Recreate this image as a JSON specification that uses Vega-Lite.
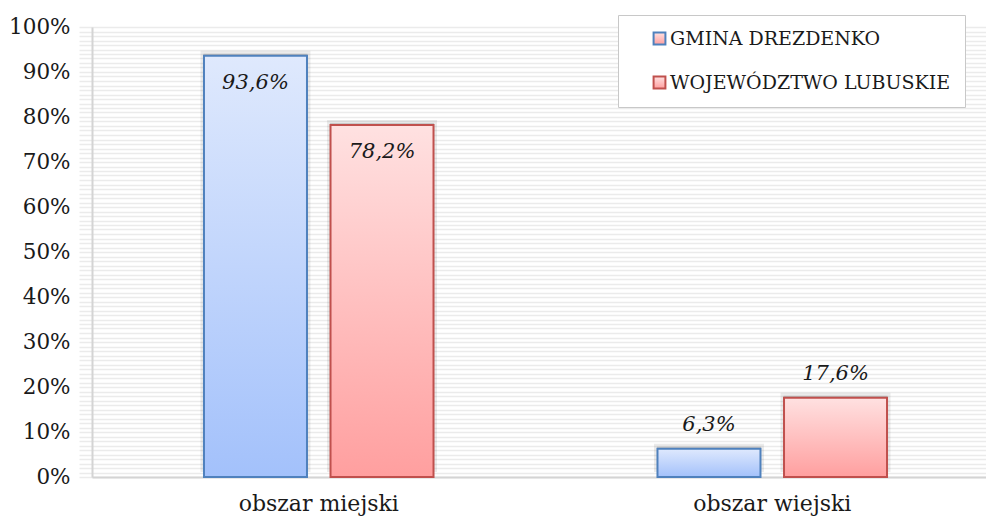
{
  "$schema": "https://vega.github.io/schema/vega-lite/v6.json",
  "width": 894,
  "height": 450,
  "autosize": "none",
  "padding": {"left": 92, "top": 27, "right": 0, "bottom": 40},
  "background": "white",
  "data": {
    "values": [
      {"area": "obszar miejski", "series": "GMINA DREZDENKO", "value": 0.936},
      {"area": "obszar miejski", "series": "WOJEWÓDZTWO LUBUSKIE", "value": 0.782},
      {"area": "obszar wiejski", "series": "GMINA DREZDENKO", "value": 0.063},
      {"area": "obszar wiejski", "series": "WOJEWÓDZTWO LUBUSKIE", "value": 0.176}
    ]
  },
  "encoding": {
    "x": {"field": "area", "type": "nominal", "sort": null,
      "scale": {"range": [0, 907], "paddingInner": 0, "paddingOuter": 0},
      "axis": {"title": null, "labelAngle": 0, "ticks": false, "domainColor": "#d4d4d4", "domainWidth": 2, "labelPadding": 16, "labelFontSize": 22, "labelColor": "#1a1a1a", "labelFont": "DejaVu Serif"}},
    "xOffset": {"field": "series", "type": "nominal", "sort": ["GMINA DREZDENKO", "WOJEWÓDZTWO LUBUSKIE"],
      "scale": {"paddingInner": 0.186, "paddingOuter": 0.885}},
    "y": {"field": "value", "type": "quantitative", "scale": {"domain": [0, 1], "nice": false}, "axis": null}
  },
  "layer": [
    {
      "mark": {"type": "rule", "opacity": 0},
      "encoding": {
        "y": {"field": "value", "type": "quantitative", "scale": {"domain": [0, 1], "nice": false},
          "axis": {"orient": "right", "title": null, "labels": false, "ticks": false, "domain": false, "grid": true, "tickCount": 100, "gridColor": "#ebebeb", "gridWidth": 1.5}}
      }
    },
    {
      "mark": {"type": "bar", "fill": "#000", "opacity": 0.08, "xOffset": 6, "yOffset": -5, "width": 110},
      "encoding": {}
    },
    {
      "mark": {"type": "bar", "fill": "#000", "opacity": 0.14, "xOffset": 3, "yOffset": -2, "width": 104},
      "encoding": {}
    },
    {
      "mark": {"type": "bar", "strokeWidth": 2},
      "encoding": {
        "y": {"field": "value", "type": "quantitative", "scale": {"domain": [0, 1], "nice": false},
          "axis": {"orient": "left", "title": null, "format": ".0%", "values": [0, 0.1, 0.2, 0.3, 0.4, 0.5, 0.6, 0.7, 0.8, 0.9, 1], "ticks": false, "domainColor": "#d4d4d4", "domainWidth": 2, "gridColor": "#d4d4d4", "gridWidth": 2, "labelPadding": 22, "labelFontSize": 21.5, "labelColor": "#1a1a1a", "labelFont": "DejaVu Serif"}},
        "stroke": {"field": "series", "type": "nominal", "sort": ["GMINA DREZDENKO", "WOJEWÓDZTWO LUBUSKIE"],
          "scale": {"range": ["#4f81bd", "#c0504d"]},
          "legend": {"title": null, "orient": "none", "legendX": 526, "legendY": -12, "strokeColor": "#c8c8c8", "fillColor": "white", "padding": 14, "symbolOffset": 18, "symbolType": "square", "symbolSize": 140, "symbolStrokeWidth": 2, "labelFont": "DejaVu Serif", "labelFontSize": 19, "labelColor": "#1a1a1a", "labelLimit": 500, "rowPadding": 23, "labelOffset": 1,
            "encode": {"symbols": {"update": {"fill": {"signal": "datum.value === 'GMINA DREZDENKO' ? '#c3d6fb' : '#fdc3c3'"}}}, "legend": {"update": {"strokeWidth": {"value": 2}}}}}},
        "fill": {
          "condition": {"test": "datum.series === 'GMINA DREZDENKO'",
            "value": {"gradient": "linear", "x1": 0, "y1": 0, "x2": 0, "y2": 1, "stops": [{"offset": 0, "color": "#dfe9fd"}, {"offset": 1, "color": "#a3c1fb"}]}},
          "value": {"gradient": "linear", "x1": 0, "y1": 0, "x2": 0, "y2": 1, "stops": [{"offset": 0, "color": "#ffe1e1"}, {"offset": 1, "color": "#ff9f9f"}]}
        }
      }
    },
    {
      "transform": [{"filter": "datum.value > 0.5"}],
      "mark": {"type": "text", "dy": 27, "baseline": "middle", "font": "DejaVu Serif", "fontStyle": "italic", "fontSize": 21, "color": "#1a1a1a"},
      "encoding": {"text": {"field": "value", "type": "quantitative", "format": ".1%"}}
    },
    {
      "transform": [{"filter": "datum.value <= 0.5"}],
      "mark": {"type": "text", "dy": -24, "baseline": "middle", "font": "DejaVu Serif", "fontStyle": "italic", "fontSize": 21, "color": "#1a1a1a"},
      "encoding": {"text": {"field": "value", "type": "quantitative", "format": ".1%"}}
    }
  ],
  "resolve": {"axis": {"y": "independent"}},
  "config": {
    "view": {"stroke": null},
    "locale": {"number": {"decimal": ",", "thousands": " ", "grouping": [3], "currency": ["", " zł"]}}
  }
}
